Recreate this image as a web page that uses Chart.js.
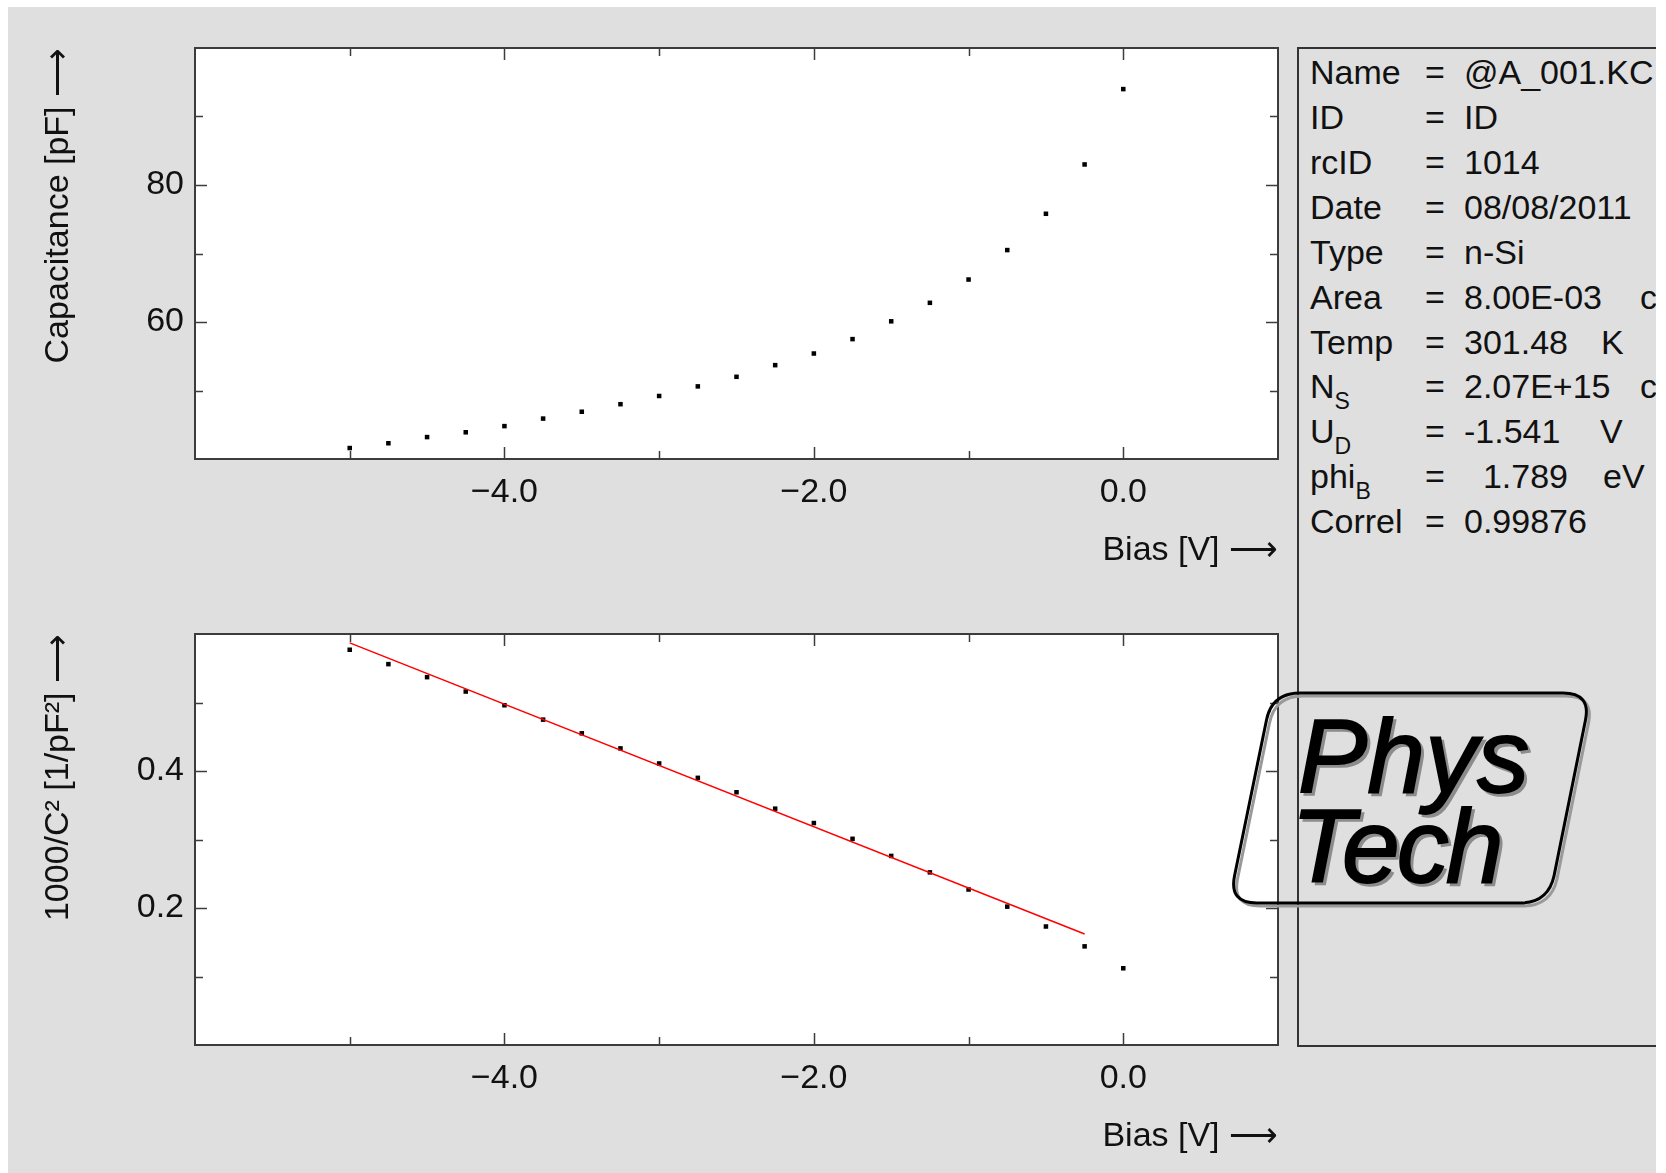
<!DOCTYPE html>
<html>
<head>
<meta charset="utf-8">
<title>C-V</title>
<script src="https://cdn.jsdelivr.net/npm/chart.js@4.4.1/dist/chart.umd.min.js"></script>
<style>
  html, body { margin: 0; padding: 0; background: #fff; overflow: hidden; }
  body { width: 1666px; height: 1173px; position: relative; font-family: "Liberation Sans", Arial, sans-serif; }
  #panel { position: absolute; left: 8px; top: 7px; width: 1648px; height: 1166px; background: #dfdfdf; overflow: hidden; }
  #info { position: absolute; left: 1289px; top: 40px; width: 600px; height: 996px; border: 2px solid #333; }
  .cell { position: absolute; white-space: pre; font-size: 34px; line-height: 34px; color: #111; }
  .sub { font-size: 23px; position: relative; top: 11px; }
  canvas { position: absolute; left: 0; }
  #cv1 { top: 0; }
  #cv2 { top: 586px; }
  #logo { position: absolute; left: 0; top: 0; }
</style>
</head>
<body>
<div id="panel"><div id="info"></div></div>
<canvas id="cv1" width="1300" height="590"></canvas>
<canvas id="cv2" width="1300" height="590"></canvas>
<svg id="logo" width="1666" height="1173">
  <g fill="none" stroke-width="3" stroke-linejoin="round">
    <path transform="translate(3,3)" stroke="#9a9a9a"
      d="M1300,693 L1563,693 Q1591,693 1585.5,720 L1554,876 Q1548,903 1520,903 L1257,903 Q1229,903 1234.5,876 L1266.5,720 Q1272,693 1300,693 Z"/>
    <path stroke="#000"
      d="M1300,693 L1563,693 Q1591,693 1585.5,720 L1554,876 Q1548,903 1520,903 L1257,903 Q1229,903 1234.5,876 L1266.5,720 Q1272,693 1300,693 Z"/>
  </g>
  <g font-family="Liberation Sans, Arial, sans-serif" font-style="italic" font-size="104">
    <text x="1301" y="795" fill="#8c8c8c" stroke="#8c8c8c" stroke-width="1.5">Phys</text>
    <text x="1294" y="885" fill="#8c8c8c" stroke="#8c8c8c" stroke-width="1.5" letter-spacing="-3">Tech</text>
    <text x="1298" y="792" fill="#000" stroke="#000" stroke-width="1.8">Phys</text>
    <text x="1291" y="882" fill="#000" stroke="#000" stroke-width="1.8" letter-spacing="-3">Tech</text>
  </g>
</svg>
<script>
// Mesure C-V : tension de polarisation (V)
const bias = [-5.0, -4.75, -4.5, -4.25, -4.0, -3.75, -3.5, -3.25, -3.0, -2.75, -2.5,
              -2.25, -2.0, -1.75, -1.5, -1.25, -1.0, -0.75, -0.5, -0.25, 0.0];
// Capacité (pF)
const capacitance = [41.6, 42.3, 43.2, 43.9, 44.8, 45.9, 46.9, 48.0, 49.2, 50.6, 52.0,
                     53.7, 55.4, 57.5, 60.1, 62.8, 66.2, 70.5, 75.8, 83.0, 94.0];
// 1000/C^2 (1/pF^2)
const invC2 = [0.577, 0.556, 0.537, 0.516, 0.496, 0.475, 0.455, 0.433, 0.411, 0.390, 0.369,
               0.345, 0.324, 0.301, 0.276, 0.252, 0.227, 0.202, 0.173, 0.144, 0.112];
// Droite d'ajustement (rouge)
const fitBias = [-5.0, -0.25];
const fitInvC2 = [0.587, 0.162];

// Graduations
const xLabeled = [-4, -2, 0];
const capLabeled = [60, 80];
const invLabeled = [0.2, 0.4];

// Panneau d'informations
const infoLabels = ['Name', 'ID', 'rcID', 'Date', 'Type', 'Area', 'Temp', 'N', 'U', 'phi', 'Correl'];
const infoSubs   = ['', '', '', '', '', '', '', 'S', 'D', 'B', ''];
const infoValues = ['@A_001.KC', 'ID', '1014', '08/08/2011', 'n-Si', '8.00E-03', '301.48',
                    '2.07E+15', '-1.541', '  1.789', '0.99876'];
const infoUnits  = ['', '', '', '', '', 'cm²', 'K', 'cm⁻³', 'V', 'eV', ''];
const unitX      = [0, 0, 0, 0, 0, 1640, 1601, 1640, 1600, 1603, 0];

const FONT = '"Liberation Sans", Arial, sans-serif';
const has = (list, v) => list.some(l => Math.abs(l - v) < 1e-6);

// Construction du panneau texte
const info = document.getElementById('info');
function addCell(html, x, y) {
    const el = document.createElement('div');
    el.className = 'cell';
    el.innerHTML = html;
    // coordonnées dans la page -> coordonnées dans #info
    el.style.left = (x - 8 - 1289 - 2) + 'px';
    el.style.top = (y - 16.6 - 7 - 40 - 2) + 'px';
    info.appendChild(el);
}
infoLabels.forEach((lab, i) => {
    const y = 71.5 + 44.94 * i;
    const sub = infoSubs[i] ? '<span class="sub">' + infoSubs[i] + '</span>' : '';
    addCell(lab + sub, 1310, y);
    addCell('=', 1425, y);
    addCell(infoValues[i], 1464, y);
    if (infoUnits[i]) addCell(infoUnits[i], unitX[i], y);
});

// Cadre, fond blanc et graduations intérieures
const framePlugin = {
    id: 'frame',
    beforeDraw(chart) {
        const { ctx, chartArea: a } = chart;
        ctx.save();
        ctx.fillStyle = '#ffffff';
        ctx.fillRect(a.left, a.top, a.right - a.left, a.bottom - a.top);
        ctx.restore();
    },
    afterDraw(chart, args, opts) {
        const { ctx, chartArea: a, scales } = chart;
        ctx.save();
        ctx.strokeStyle = '#3c3c3c';
        ctx.lineWidth = 1.5;
        scales.x.ticks.forEach(t => {
            const px = Math.round(scales.x.getPixelForValue(t.value)) + 0.5;
            if (px <= a.left + 2 || px >= a.right - 2) return;
            const len = has(opts.xMajor, t.value) ? 12 : 8;
            ctx.beginPath();
            ctx.moveTo(px, a.top); ctx.lineTo(px, a.top + len);
            ctx.moveTo(px, a.bottom); ctx.lineTo(px, a.bottom - len);
            ctx.stroke();
        });
        scales.y.ticks.forEach(t => {
            const py = Math.round(scales.y.getPixelForValue(t.value)) + 0.5;
            if (py <= a.top + 2 || py >= a.bottom - 2) return;
            const len = has(opts.yMajor, t.value) ? 12 : 8;
            ctx.beginPath();
            ctx.moveTo(a.left, py); ctx.lineTo(a.left + len, py);
            ctx.moveTo(a.right, py); ctx.lineTo(a.right - len, py);
            ctx.stroke();
        });
        ctx.lineWidth = 2;
        ctx.strokeRect(a.left, a.top, a.right - a.left, a.bottom - a.top);
        ctx.restore();
    }
};

// étiquette avec vrai signe moins
const fmtX = v => (v < 0 ? '\u2212' : '') + Math.abs(v).toFixed(1);

function makeChart(id, datasets, yMin, yMax, yStep, yLabeled, yFormat, yTitle) {
    return new Chart(document.getElementById(id), {
        type: 'scatter',
        data: { datasets },
        plugins: [framePlugin],
        options: {
            responsive: false,
            animation: false,
            layout: { padding: { top: 48, right: 22, left: 0, bottom: 0 } },
            plugins: {
                legend: { display: false },
                tooltip: { enabled: false },
                frame: { xMajor: xLabeled, yMajor: yLabeled }
            },
            scales: {
                x: {
                    type: 'linear', min: -6, max: 1,
                    grid: { display: false, drawTicks: false },
                    border: { display: false },
                    ticks: {
                        stepSize: 1, autoSkip: false, padding: 13, maxRotation: 0,
                        color: '#111', font: { family: FONT, size: 34 },
                        callback: v => has(xLabeled, v) ? fmtX(v) : ''
                    },
                    title: {
                        display: true, text: 'Bias [V] ⟶', align: 'end',
                        color: '#111', font: { family: FONT, size: 34 },
                        padding: { top: 0, bottom: 19 }
                    },
                    afterFit: s => { s.height = 131; }
                },
                y: {
                    type: 'linear', min: yMin, max: yMax,
                    grid: { display: false, drawTicks: false },
                    border: { display: false },
                    ticks: {
                        stepSize: yStep, autoSkip: false, padding: 11,
                        color: '#111', font: { family: FONT, size: 34 },
                        callback: v => has(yLabeled, v) ? yFormat(v) : ''
                    },
                    title: {
                        display: true, text: yTitle, align: 'end',
                        color: '#111', font: { family: FONT, size: 34 },
                        padding: { top: 38, bottom: 0 }
                    },
                    afterFit: s => { s.width = 195; }
                }
            }
        }
    });
}

const pointStyle = {
    pointStyle: 'rect', pointRadius: 3.2, pointBorderWidth: 0,
    pointBackgroundColor: '#000', showLine: false
};

makeChart('cv1', [
    Object.assign({ label: 'C', data: bias.map((b, i) => ({ x: b, y: capacitance[i] })) }, pointStyle)
], 40, 100, 10, capLabeled, v => String(Math.round(v)), 'Capacitance [pF] ⟶');

makeChart('cv2', [
    {
        label: 'fit', data: fitBias.map((b, i) => ({ x: b, y: fitInvC2[i] })),
        showLine: true, borderColor: '#ff0000', borderWidth: 1.5, pointRadius: 0
    },
    Object.assign({ label: '1000/C²', data: bias.map((b, i) => ({ x: b, y: invC2[i] })) }, pointStyle)
], 0, 0.6, 0.1, invLabeled, v => v.toFixed(1), '1000/C² [1/pF²] ⟶');
</script>
</body>
</html>
